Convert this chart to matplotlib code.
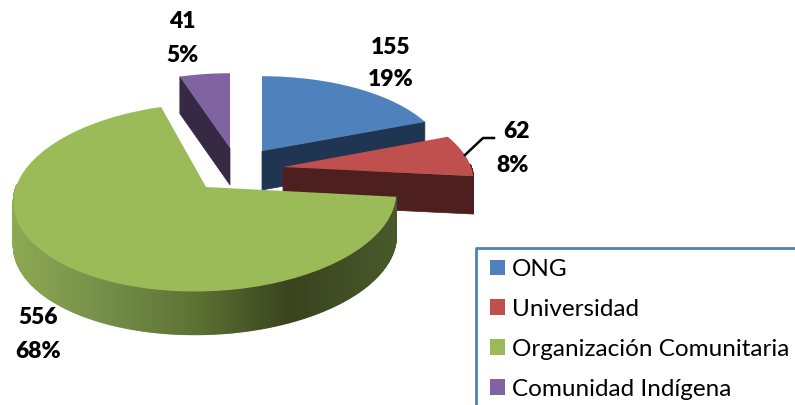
import numpy as np
import matplotlib
matplotlib.use('Agg')
import matplotlib.pyplot as plt
from matplotlib.colors import to_rgb
from matplotlib.transforms import Transform

categories = ['ONG', 'Universidad', 'Organización Comunitaria', 'Comunidad Indígena']
values = [155, 62, 556, 41]
percents = ['19%', '8%', '68%', '5%']
top_colors = ['#4F81BD', '#C0504D', '#9BBB59', '#8064A2']
wall_colors = ['#1F3552', '#4D1F1E', '#3F4C24', '#362943']

# one projection per exploded slice: cx, cy, a, b, persp, shear, depth (pixels)
slice_geom = [
    (262, 151, 182, 83, 0.11, 0, 39),
    (283, 167, 188, 86, 0.11, -10, 38),
    (206, 187, 190, 93, 0.11, 10, 43),
    (230, 148, 178, 83, 0.11, 0, 37),
]
label_pos = [(391, 47), (516, 132), (38, 318), (182, 22)]
draw_order = [3, 0, 1, 2]

wall_x = [13, 100, 200, 290, 400]
wall_c = ['#8DA951', '#76904A', '#5C7033', '#39431F', '#4A5A2B']


def project(x, y, geom):
    cx, cy, a, b, k, shear, _ = geom
    s = 1 / (1 + k * y)
    return cx + (a * x + shear * y) * s, cy - b * y * s


class Flatten(Transform):
    input_dims = 2
    output_dims = 2

    def __init__(self, geom):
        super().__init__()
        self.geom = geom

    def transform_non_affine(self, values):
        px, py = project(values[:, 0], values[:, 1], self.geom)
        return np.column_stack([px, py])


def rim(theta, geom):
    t = np.radians(theta)
    return project(np.cos(t), np.sin(t), geom)


def wall_color(x):
    rgb = np.array([to_rgb(c) for c in wall_c])
    return [np.interp(x, wall_x, rgb[:, i]) for i in range(3)]


fig = plt.figure(figsize=(7.95, 4.05), dpi=100)
ax = fig.add_axes([0, 0, 1, 1])
wedges, _ = ax.pie(values, startangle=90, counterclock=False, colors=top_colors)
ax.set_aspect('auto')
ax.set_xlim(0, 795)
ax.set_ylim(405, 0)
ax.axis('off')

for order, i in enumerate(draw_order):
    w = wedges[i]
    geom = slice_geom[i]
    depth = geom[-1]
    z = 2 + 2 * order
    w.set_transform(Flatten(geom) + ax.transData)
    w.set_zorder(z + 1)
    w.set_linewidth(0)

    # cut face, green's faces away from the viewer
    if i != 2:
        face = w.theta2 if i == 3 else w.theta1
        ax_, ay_ = project(0.0, 0.0, geom)
        rx, ry = rim(face, geom)
        ax.fill([ax_, rx, rx, ax_], [ay_, ry, ry + depth, ay_ + depth],
                color=wall_colors[i], lw=0.5, zorder=z)

    # outer wall, only the part facing the viewer
    th = np.linspace(w.theta1, w.theta2, 500)
    th = th[np.sin(np.radians(th)) < 0.03]
    for t0, t1 in zip(th[:-1], th[1:]):
        x0, y0 = rim(t0, geom)
        x1, y1 = rim(t1, geom)
        c = wall_color((x0 + x1) / 2) if i == 2 else wall_colors[i]
        ax.fill([x0, x1, x1, x0], [y0, y1, y1 + depth, y0 + depth],
                color=c, lw=1.0, zorder=z)

for i, (x, y) in enumerate(label_pos):
    ax.text(x, y, str(values[i]), ha='center', va='center', fontsize=16.5,
            fontweight='heavy', family='Lato', color='black', zorder=20)
    ax.text(x - (3 if i == 1 else 0), y + 33, percents[i], ha='center', va='center',
            fontsize=16.5, fontweight='heavy', family='Lato', color='black', zorder=20)

ax.plot([465, 483, 494], [155, 138, 138], color='black', lw=1.8, zorder=20)

# only the top and left of the legend box fall inside the picture
ax.plot([476, 476, 795], [405, 248, 248], color='#4F81BD', lw=2, zorder=25)
leg = ax.legend(wedges, categories, loc='upper left', bbox_to_anchor=(490 / 795, 1 - 259 / 405),
                prop={'family': 'Lato', 'size': 17.5}, frameon=False,
                handlelength=0.62, handleheight=0.62, handletextpad=0.29,
                labelspacing=0.775, borderpad=0, borderaxespad=0)
leg.set_zorder(30)

fig.savefig('out.png', dpi=100)
